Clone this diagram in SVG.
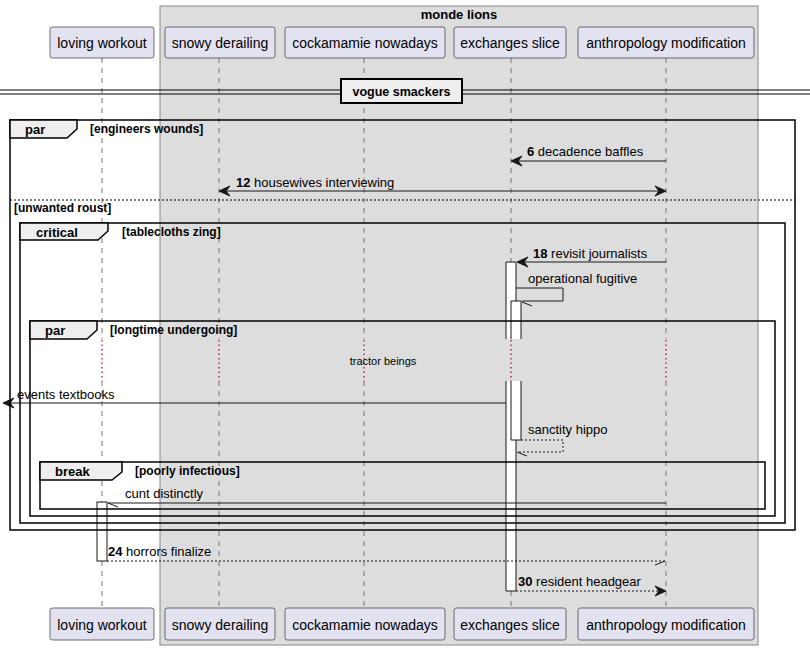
<svg xmlns="http://www.w3.org/2000/svg" width="810" height="650" viewBox="0 0 810 650">
<style>
text{font-family:"Liberation Sans",Arial,sans-serif;fill:#000}
.pbox{fill:#E2E2F0;stroke:#181818;stroke-width:0.6}
.pt{font-size:14px;text-anchor:middle}
.life{stroke:#777;stroke-width:1;stroke-dasharray:5,5}
.delay{stroke:#A80036;stroke-width:1.2;stroke-dasharray:1.5,3}
.act{fill:#fff;stroke:#181818;stroke-width:1}
.msg{stroke:#181818;stroke-width:1;fill:none}
.ret{stroke:#181818;stroke-width:1;fill:none;stroke-dasharray:2,2}
.head{fill:#181818;stroke:#181818;stroke-width:1}
.ml{font-size:13px}
.frame{fill:none;stroke:#000;stroke-width:1.5}
.tab{fill:#EEEEEE;stroke:#000;stroke-width:1.5}
.fl{font-size:13px;font-weight:bold}
.gl{font-size:12px;font-weight:bold}
</style>
<rect x="160" y="6" width="598" height="639" fill="#DDDDDD" stroke="#888" stroke-width="1"/>
<text x="459" y="19" font-size="13" font-weight="bold" text-anchor="middle">monde lions</text>

<g id="lifelines">
<path class="life" d="M102,58V339M102,381V608M219,58V339M219,381V608M364,58V339M364,381V608M511,58V339M511,381V608M666,58V339M666,381V608"/>
<path class="delay" d="M102,340V381M219,340V381M364,340V381M511,340V381M666,340V381"/>
</g>

<g id="p-loving-workout">
<rect class="pbox" x="50" y="27" width="104" height="31" rx="2.5"/>
<text class="pt" x="102" y="48">loving workout</text>
<rect class="pbox" x="50" y="608" width="104" height="32" rx="2.5"/>
<text class="pt" x="102" y="630">loving workout</text>
</g>
<g id="p-snowy-derailing">
<rect class="pbox" x="165" y="27" width="110" height="31" rx="2.5"/>
<text class="pt" x="220" y="48">snowy derailing</text>
<rect class="pbox" x="165" y="608" width="110" height="32" rx="2.5"/>
<text class="pt" x="220" y="630">snowy derailing</text>
</g>
<g id="p-cockamamie-nowadays">
<rect class="pbox" x="285" y="27" width="160" height="31" rx="2.5"/>
<text class="pt" x="365" y="48">cockamamie nowadays</text>
<rect class="pbox" x="285" y="608" width="160" height="32" rx="2.5"/>
<text class="pt" x="365" y="630">cockamamie nowadays</text>
</g>
<g id="p-exchanges-slice">
<rect class="pbox" x="454" y="27" width="112" height="31" rx="2.5"/>
<text class="pt" x="510" y="48">exchanges slice</text>
<rect class="pbox" x="454" y="608" width="112" height="32" rx="2.5"/>
<text class="pt" x="510" y="630">exchanges slice</text>
</g>
<g id="p-anthropology-modification">
<rect class="pbox" x="578" y="27" width="176" height="31" rx="2.5"/>
<text class="pt" x="666" y="48">anthropology modification</text>
<rect class="pbox" x="578" y="608" width="176" height="32" rx="2.5"/>
<text class="pt" x="666" y="630">anthropology modification</text>
</g>

<g id="divider">
<line x1="0" y1="90" x2="810" y2="90" stroke="#000" stroke-width="1.2"/>
<line x1="0" y1="94" x2="810" y2="94" stroke="#000" stroke-width="1.2"/>
<rect x="341" y="79" width="121" height="24" fill="#EEEEEE" stroke="#000" stroke-width="2"/>
<text x="401.5" y="96" font-size="12.5" font-weight="bold" text-anchor="middle">vogue smackers</text>
</g>

<g id="activations">
<path class="act" d="M506,339V262H516V339"/>
<path class="act" d="M506,381V591H516V381"/>
<path class="act" d="M511,339V301H521V339"/>
<path class="act" d="M511,381V440H521V381"/>
<rect class="act" x="97" y="502" width="10" height="59"/>
</g>

<g id="connectors">
<line class="msg" x1="666" y1="161" x2="512" y2="161"/>
<polygon class="head" points="511,161 522,156 518,161 522,166"/>
<text class="ml" x="527" y="156"><tspan font-weight="bold">6</tspan> decadence baffles</text>

<line class="msg" x1="220" y1="191" x2="665" y2="191"/>
<polygon class="head" points="219,191 230,186 226,191 230,196"/>
<polygon class="head" points="666,191 655,186 659,191 655,196"/>
<text class="ml" x="236" y="187"><tspan font-weight="bold">12</tspan> housewives interviewing</text>

<line class="msg" x1="666" y1="262" x2="518" y2="262"/>
<polygon class="head" points="517,262 528,257 524,262 528,267"/>
<text class="ml" x="533" y="258"><tspan font-weight="bold">18</tspan> revisit journalists</text>

<path class="msg" d="M516,288H563V301H522"/>
<line class="msg" x1="522" y1="302" x2="532" y2="306"/>
<text class="ml" x="528" y="283">operational fugitive</text>

<text x="383" y="365" font-size="11" text-anchor="middle">tractor beings</text>

<line class="msg" x1="506" y1="403" x2="4" y2="403"/>
<polygon class="head" points="3,403 14,398 10,403 14,408"/>
<text class="ml" x="17" y="399">events textbooks</text>

<path class="ret" d="M521,440H563V452H517"/>
<line class="msg" x1="517" y1="452" x2="527" y2="456"/>
<text class="ml" x="528" y="434">sanctity hippo</text>

<line class="msg" x1="666" y1="503" x2="108" y2="503"/>
<line class="msg" x1="108" y1="503" x2="118" y2="507"/>
<text class="ml" x="125" y="498">cunt distinctly</text>

<line class="ret" x1="107" y1="561" x2="665" y2="561"/>
<line class="msg" x1="665" y1="561" x2="655" y2="565"/>
<text class="ml" x="108" y="556"><tspan font-weight="bold">24</tspan> horrors finalize</text>

<line class="ret" x1="516" y1="591" x2="664" y2="591"/>
<polygon class="head" points="666,591 655,586 659,591 655,596"/>
<text class="ml" x="518" y="586"><tspan font-weight="bold">30</tspan> resident headgear</text>
</g>

<g id="frame-par-outer">
<rect class="frame" x="10" y="120" width="785" height="410"/>
<path class="tab" d="M10,120H77V129L67,138H10Z"/>
<text class="fl" x="25" y="134">par</text>
<text class="gl" x="90" y="133">[engineers wounds]</text>
<line x1="10" y1="200" x2="795" y2="200" stroke="#000" stroke-width="1" stroke-dasharray="2,2"/>
<text class="gl" x="14" y="212">[unwanted roust]</text>
</g>
<g id="frame-critical">
<rect class="frame" x="20" y="223" width="765" height="300"/>
<path class="tab" d="M20,223H108V231L98,240H20Z"/>
<text class="fl" x="36" y="237">critical</text>
<text class="gl" x="122" y="236">[tablecloths zing]</text>
</g>
<g id="frame-par-inner">
<rect class="frame" x="30" y="321" width="745" height="195"/>
<path class="tab" d="M30,321H97V330L87,339H30Z"/>
<text class="fl" x="45" y="335">par</text>
<text class="gl" x="110" y="334">[longtime undergoing]</text>
</g>
<g id="frame-break">
<rect class="frame" x="40" y="462" width="725" height="47"/>
<path class="tab" d="M40,462H122V472L112,480H40Z"/>
<text class="fl" x="55" y="476">break</text>
<text class="gl" x="135" y="475">[poorly infectious]</text>
</g>
</svg>
